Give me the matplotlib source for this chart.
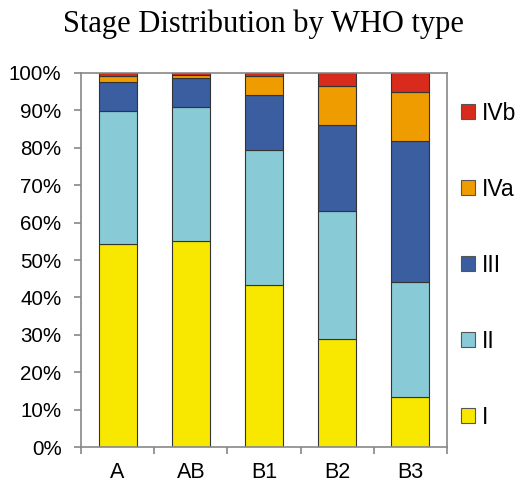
import matplotlib.pyplot as plt
import numpy as np
from matplotlib.patches import Patch

# WHO types and stage shares (%)
who_types = ['A', 'AB', 'B1', 'B2', 'B3']
stage_labels = ['I', 'II', 'III', 'IVa', 'IVb']
stage_I = [54.3, 55.0, 43.3, 28.9, 13.4]
stage_II = [35.5, 35.9, 36.1, 34.2, 30.7]
stage_III = [7.8, 7.8, 14.7, 23.0, 37.7]
stage_IVa = [1.6, 0.8, 5.1, 10.4, 13.1]
stage_IVb = [0.8, 0.5, 0.8, 3.5, 5.1]

colors = ['#f8e800', '#88cad6', '#3a5e9f', '#ef9c00', '#d92b1c']

plt.rc('font', family='Liberation Sans')

fig = plt.figure(figsize=(5.27, 4.86), dpi=100)
ax = fig.add_axes([0.1537, 0.0802, 0.6945, 0.7696])

x = np.arange(len(who_types))
bottom = np.zeros(len(who_types))
for vals, c in zip([stage_I, stage_II, stage_III, stage_IVa, stage_IVb], colors):
    ax.bar(x, vals, bottom=bottom, width=0.52, color=c, edgecolor='#333333', linewidth=0.8)
    bottom += np.array(vals)

ax.set_xlim(-0.5, len(who_types) - 0.5)
ax.set_ylim(0, 100)
ax.set_yticks(np.arange(0, 101, 10))
ax.set_yticklabels([f'{v}%' for v in range(0, 101, 10)], fontsize=14.8)
ax.set_xticks(x)
ax.set_xticklabels(who_types, fontsize=15.5)
ax.tick_params(axis='x', which='major', length=0, pad=11)
ax.set_xticks(np.arange(-0.5, len(who_types), 1), minor=True)
ax.tick_params(axis='x', which='minor', length=5, color='#888888', width=1.2)
ax.tick_params(axis='y', length=5, color='#888888', width=1.2, pad=9)
for s in ax.spines.values():
    s.set_color('#888888')
    s.set_linewidth(1.2)

fig.text(0.5, 0.95, 'Stage Distribution by WHO type', ha='center', va='center',
         family='Liberation Serif', fontsize=22)

handles = [Patch(facecolor=c, edgecolor='#555555', linewidth=0.8) for c in colors]
fig.legend(handles[::-1], stage_labels[::-1], loc='center left',
           bbox_to_anchor=(0.874, 0.454), frameon=False, fontsize=16.5,
           handlelength=0.62, handleheight=0.62, handletextpad=0.3,
           labelspacing=2.31, borderpad=0, borderaxespad=0)

fig.savefig('out.png', dpi=100)
